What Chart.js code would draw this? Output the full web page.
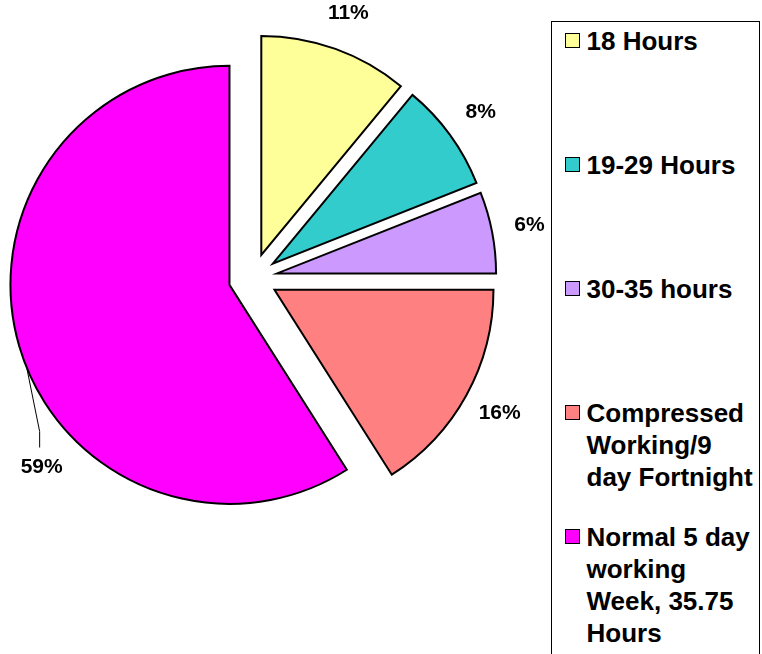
<!DOCTYPE html>
<html>
<head>
<meta charset="utf-8">
<script src="https://cdn.jsdelivr.net/npm/chart.js@4.4.0/dist/chart.umd.min.js"></script>
<style>
    html, body { margin: 0; padding: 0; background: #fff; }
    #wrap { position: relative; width: 762px; height: 654px; overflow: hidden; }
    #pieChart { position: absolute; left: 0; top: 0; }
    #legend {
        position: absolute; left: 551px; top: 21px; width: 209px; height: 680px;
        border: 1.5px solid #000; box-sizing: border-box; background: #fff;
        font-family: "Liberation Sans", Arial, sans-serif; font-weight: bold; font-size: 26px; color: #000;
    }
    .item { position: absolute; left: 34.5px; width: 168px; line-height: 32px; }
    .swatch { position: absolute; left: -22px; top: 8px; width: 13px; height: 13px; border: 1px solid #000; }
</style>
</head>
<body>
<div id="wrap">
    <canvas id="pieChart" width="762" height="654"></canvas>
    <div id="legend"></div>
</div>
<script>
var categories = ['18 Hours', '19-29 Hours', '30-35 hours', 'Compressed Working/9 day Fortnight', 'Normal 5 day working Week, 35.75 Hours'];
var shares = [11, 8, 6, 16, 59];
var sliceColors = ['#FFFF99', '#33CCCC', '#CC99FF', '#FF8080', '#FF00FF'];

var EXPLODE = 24.5;      // how far each slice is pulled out
var LEADER_INDEX = 4;    // the big slice gets its label moved down with a leader line

// pull every slice out along its middle angle
var explodePlugin = {
    id: 'explode',
    beforeDatasetDraw: function (chart, args) {
        var ctx = chart.ctx;
        args.meta.data.forEach(function (arc) {
            var mid = (arc.startAngle + arc.endAngle) / 2;
            ctx.save();
            ctx.translate(Math.cos(mid) * EXPLODE, Math.sin(mid) * EXPLODE);
            arc.draw(ctx);
            ctx.restore();
        });
        return false;
    }
};

// percentage labels outside the slices
var sliceLabels = {
    id: 'sliceLabels',
    afterDatasetsDraw: function (chart) {
        var ctx = chart.ctx;
        var meta = chart.getDatasetMeta(0);
        var total = shares.reduce(function (a, b) { return a + b; }, 0);
        ctx.save();
        ctx.font = 'bold 21px "Liberation Sans", Arial, sans-serif';
        ctx.fillStyle = '#000';
        ctx.textAlign = 'center';
        ctx.textBaseline = 'middle';
        meta.data.forEach(function (arc, i) {
            var mid = (arc.startAngle + arc.endAngle) / 2;
            var cx = arc.x + Math.cos(mid) * EXPLODE;
            var cy = arc.y + Math.sin(mid) * EXPLODE;
            var r = arc.outerRadius;
            var text = Math.round(shares[i] / total * 100) + '%';
            if (i === LEADER_INDEX) {
                var a0 = mid - 6 * Math.PI / 180;
                var a1 = mid - 28 * Math.PI / 180;
                var lx = cx + Math.cos(a1) * (r + 43);
                var ly = cy + Math.sin(a1) * (r + 43);
                ctx.beginPath();
                ctx.lineWidth = 1;
                ctx.strokeStyle = '#000';
                ctx.moveTo(cx + Math.cos(a0) * r, cy + Math.sin(a0) * r);
                ctx.lineTo(lx - 2, ly - 36);
                ctx.lineTo(lx - 2, ly - 20);
                ctx.stroke();
                ctx.fillText(text, lx, ly);
            } else {
                ctx.fillText(text, cx + Math.cos(mid) * (r + 38), cy + Math.sin(mid) * (r + 38));
            }
        });
        ctx.restore();
    }
};

var pieCtx = document.getElementById('pieChart').getContext('2d');

var pieChart = new Chart(pieCtx, {
    type: 'pie',
    data: {
        labels: categories,
        datasets: [{
            data: shares,
            backgroundColor: sliceColors,
            borderColor: '#000',
            borderWidth: 2,
            borderJoinStyle: 'miter',
            offset: 0
        }]
    },
    options: {
        responsive: false,
        animation: false,
        radius: 219,
        layout: {
            padding: { left: 0, right: 256, top: 0, bottom: 98 }
        },
        plugins: {
            legend: { display: false },
            tooltip: { enabled: false }
        }
    },
    plugins: [explodePlugin, sliceLabels]
});

// legend on the right, built from the same arrays
var legendEl = document.getElementById('legend');
for (var i = 0; i < categories.length; i++) {
    var item = document.createElement('div');
    item.className = 'item';
    item.style.top = (2.5 + i * 124) + 'px';
    var sw = document.createElement('span');
    sw.className = 'swatch';
    sw.style.background = sliceColors[i];
    item.appendChild(sw);
    item.appendChild(document.createTextNode(categories[i]));
    legendEl.appendChild(item);
}
</script>
</body>
</html>
